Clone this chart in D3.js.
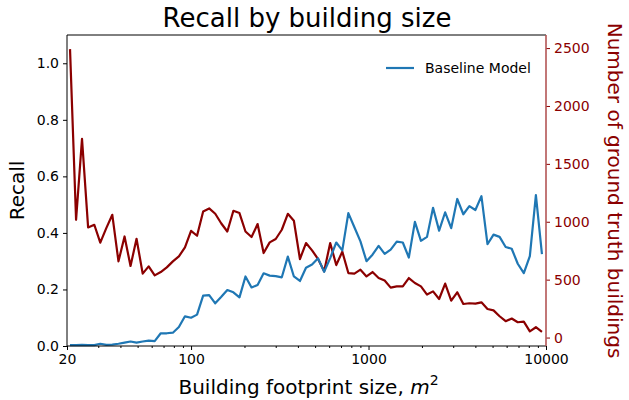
<!DOCTYPE html>
<html>
<head>
<meta charset="utf-8">
<script src="https://cdn.jsdelivr.net/npm/d3@7"></script>
<style>
  body { margin: 0; background: #fff; }
  svg { font-family: "DejaVu Sans", sans-serif; }
</style>
</head>
<body>
<svg id="chart" width="629" height="400"></svg>
<script>
// building footprint size (m^2), bin centres
const sizes = [20.8, 22.5, 24.3, 26.3, 28.5, 30.8, 33.3, 36.0, 39.0, 42.2,
  45.6, 49.3, 53.4, 57.7, 62.4, 67.5, 73.0, 79.0, 85.4, 92.4,
  100.0, 108.1, 117.0, 126.5, 136.9, 148.1, 160.1, 173.2, 187.4, 202.6,
  219.2, 237.1, 256.4, 277.4, 300.0, 324.6, 351.0, 379.7, 410.7, 444.3,
  480.6, 519.8, 562.3, 608.2, 657.9, 711.6, 769.6, 832.5, 900.5, 974.1,
  1053, 1140, 1233, 1333, 1442, 1560, 1687, 1825, 1974, 2136,
  2310, 2499, 2703, 2924, 3162, 3421, 3699, 4001, 4327, 4681,
  5063, 5477, 5924, 6408, 6932, 7498, 8109, 8771, 9487];

// recall of the baseline model
const recall = [0.003, 0.003, 0.004, 0.003, 0.003, 0.008, 0.004, 0.005, 0.008, 0.012,
  0.016, 0.012, 0.016, 0.019, 0.017, 0.045, 0.045, 0.047, 0.067, 0.105,
  0.100, 0.111, 0.178, 0.180, 0.151, 0.174, 0.198, 0.190, 0.172, 0.246,
  0.207, 0.216, 0.257, 0.249, 0.247, 0.243, 0.316, 0.246, 0.230, 0.277,
  0.288, 0.310, 0.262, 0.311, 0.366, 0.338, 0.470, 0.420, 0.370, 0.300,
  0.323, 0.354, 0.326, 0.341, 0.369, 0.366, 0.313, 0.439, 0.372, 0.386,
  0.489, 0.408, 0.473, 0.417, 0.520, 0.466, 0.495, 0.481, 0.530, 0.360,
  0.394, 0.386, 0.350, 0.344, 0.291, 0.258, 0.318, 0.534, 0.325];

// number of ground truth buildings in each bin
const counts = [2491, 1017, 1716, 951, 974, 820, 945, 1060, 658, 873,
  618, 853, 552, 615, 537, 566, 606, 658, 701, 778,
  922, 879, 1089, 1115, 1069, 985, 916, 1095, 1075, 916,
  868, 980, 730, 822, 851, 931, 1069, 1009, 678, 816,
  753, 678, 572, 816, 626, 742, 557, 552, 586, 528,
  566, 515, 492, 431, 442, 442, 514, 471, 442, 371,
  399, 333, 466, 319, 391, 290, 296, 293, 304, 247,
  235, 184, 141, 164, 132, 138, 54, 89, 49];

const xTicks = [20, 100, 1000, 10000];
const recallTicks = [0, 0.2, 0.4, 0.6, 0.8, 1.0];
const countTicks = [0, 500, 1000, 1500, 2000, 2500];

const blue = "#1f77b4", red = "#8b0000";
const margin = {top: 35, right: 83, bottom: 54, left: 67};
const width = 629 - margin.left - margin.right;
const height = 400 - margin.top - margin.bottom;

const svg = d3.select("#chart");
const g = svg.append("g").attr("transform", `translate(${margin.left},${margin.top})`);

const x = d3.scaleLog().domain([20, 10000]).range([0, width]);
const y = d3.scaleLinear().domain([0, 1.1]).range([height, 0]);
const y2 = d3.scaleLinear().domain([-73, 2613]).range([height, 0]);

// minor ticks on the log axis
const minor = [];
[10, 100, 1000].forEach(dec => {
  for (let k = 2; k <= 9; k++) {
    const v = dec * k;
    if (v > 20 && v < 10000 && !xTicks.includes(v)) minor.push(v);
  }
});

const xAxis = g.append("g").attr("transform", `translate(0,${height})`)
  .call(d3.axisBottom(x).tickValues(xTicks).tickFormat(d3.format("d")).tickSize(4).tickPadding(4));
g.append("g").attr("transform", `translate(0,${height})`)
  .call(d3.axisBottom(x).tickValues(minor).tickFormat("").tickSize(2))
  .call(a => a.select(".domain").remove());

const yAxis = g.append("g")
  .call(d3.axisLeft(y).tickValues(recallTicks).tickFormat(d3.format(".1f")).tickSize(4).tickPadding(4));

const y2Axis = g.append("g").attr("transform", `translate(${width},0)`)
  .call(d3.axisRight(y2).tickValues(countTicks).tickFormat(d3.format("d")).tickSize(4).tickPadding(4));

[xAxis, yAxis, y2Axis].forEach(a => {
  a.selectAll("text").attr("font-size", 14).attr("font-family", "DejaVu Sans").attr("fill", "#000");
  a.select(".domain").remove();
});
y2Axis.selectAll("text").attr("fill", red);
y2Axis.selectAll("line").attr("stroke", red);

// lines
g.append("path").datum(counts)
  .attr("fill", "none").attr("stroke", red).attr("stroke-width", 2.2)
  .attr("stroke-linejoin", "round")
  .attr("d", d3.line().x((d, i) => x(sizes[i])).y(d => y2(d)));

g.append("path").datum(recall)
  .attr("fill", "none").attr("stroke", blue).attr("stroke-width", 2.2)
  .attr("stroke-linejoin", "round")
  .attr("d", d3.line().x((d, i) => x(sizes[i])).y(d => y(d)));

// frame
g.append("line").attr("x1", 0).attr("x2", width).attr("y1", 0).attr("y2", 0).attr("stroke", "#000");
g.append("line").attr("x1", 0).attr("x2", width).attr("y1", height).attr("y2", height).attr("stroke", "#000");
g.append("line").attr("x1", 0).attr("x2", 0).attr("y1", 0).attr("y2", height).attr("stroke", "#000");
g.append("line").attr("x1", width).attr("x2", width).attr("y1", 0).attr("y2", height)
  .attr("stroke", "#b35555").attr("stroke-width", 1.6);

// legend
const leg = g.append("g").attr("transform", `translate(${width - 160},${33})`);
leg.append("line").attr("x1", 0).attr("x2", 28).attr("stroke", blue).attr("stroke-width", 2.2);
leg.append("text").attr("x", 39).attr("y", 5).attr("font-size", 14).text("Baseline Model");

// titles
svg.append("text").attr("x", 307).attr("y", 27).attr("text-anchor", "middle")
  .attr("font-size", 26).text("Recall by building size");

svg.append("text").attr("transform", `translate(24,${margin.top + height / 2}) rotate(-90)`)
  .attr("text-anchor", "middle").attr("font-size", 20).text("Recall");

const xl = svg.append("text").attr("x", margin.left + width / 2 + 2).attr("y", 394)
  .attr("text-anchor", "middle").attr("font-size", 20);
xl.append("tspan").text("Building footprint size, ");
xl.append("tspan").attr("font-style", "italic").text("m");
xl.append("tspan").attr("font-size", 14).attr("dy", -9).text("2");

svg.append("text").attr("transform", `translate(608,${margin.top + height / 2}) rotate(90)`)
  .attr("text-anchor", "middle").attr("font-size", 20).attr("fill", red)
  .text("Number of ground truth buildings");
</script>
</body>
</html>
